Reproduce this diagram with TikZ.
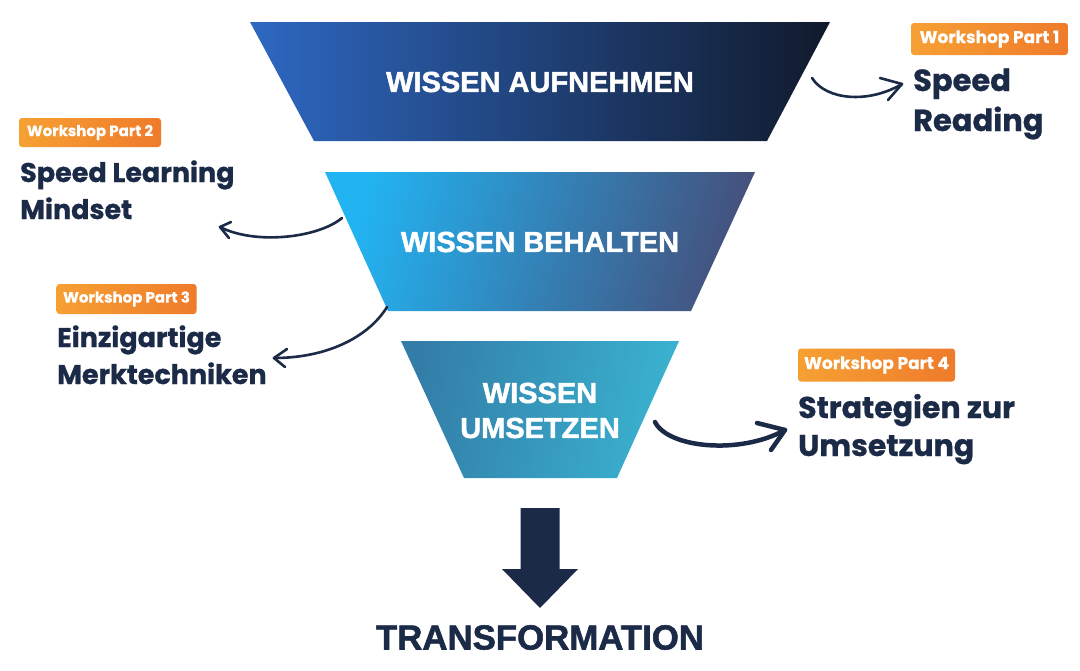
\documentclass[tikz,border=0pt]{standalone}
\usepackage{fontspec}
\setmainfont{Liberation Sans}[BoldFeatures={FakeBold=1.6}]
\newfontfamily\pop{Poppins}[BoldFeatures={FakeBold=0.8}]
\newfontfamily\popbadge{Poppins}[BoldFeatures={FakeBold=0.4}]
\usetikzlibrary{calc}
\definecolor{navy}{HTML}{1B2A47}
\definecolor{aL}{HTML}{2E68C2}
\definecolor{aR}{HTML}{111A2C}
\definecolor{bL}{HTML}{22B4F2}
\definecolor{bR}{HTML}{44527E}
\definecolor{cL}{HTML}{337DA8}
\definecolor{cR}{HTML}{3AB3D0}
\definecolor{oL}{HTML}{F6A033}
\definecolor{oR}{HTML}{EF7B2B}
\tikzset{
  funneltext/.style={text=white, font=\fontsize{29}{35}\selectfont\bfseries, align=center, inner sep=0},
  badge/.style={rounded corners=3pt, left color=oL, right color=oR, text=white,
     font=\popbadge\fontsize{#1}{#1}\selectfont\bfseries, inner sep=0, draw=none},
  label/.style={text=navy, align=left, anchor=base west, inner sep=0},
  curvy/.style={draw=navy, line width=2.6pt, line cap=round},
  barb/.style={draw=navy, line width=2.6pt, line cap=round, line join=round},
}
\begin{document}
\begin{tikzpicture}[x=1pt,y=-1pt]
\useasboundingbox (0,0) rectangle (1080,670);
\fill[white] (0,0) rectangle (1080,670);

% funnel pieces
\shade[left color=aL, right color=aR] (250,22) -- (830,22) -- (767,141) -- (314,141) -- cycle;
\shade[left color=bL, right color=bR, shading angle=75] (325,172) -- (755,172) -- (691,311) -- (388,311) -- cycle;
\shade[left color=cL, right color=cR, shading angle=80] (401,341) -- (679,341) -- (617,478) -- (464,478) -- cycle;

\node[funneltext] (t1) at (540,82) {WISSEN AUFNEHMEN};
\node[funneltext] (t2) at (540,242) {WISSEN BEHALTEN};
\node[funneltext] (t3) at (540,410.5) {WISSEN\\UMSETZEN};

% big arrow
\coordinate (ba) at (540,508);
\coordinate (bt) at (540,608);
\fill[navy] ($(ba)+(-19.5,0)$) -- ($(ba)+(19.5,0)$) -- ($(ba)+(19.5,61)$) -- ($(ba)+(38,61)$) -- (bt)
   -- ($(ba)+(-38,61)$) -- ($(ba)+(-19.5,61)$) -- cycle;
\node[text=navy, font=\fontsize{34.8}{35}\selectfont\bfseries, inner sep=0] (tr) at (540,637.5) {TRANSFORMATION};

% badges
\node[badge=17, minimum width=157pt, minimum height=32pt] (b1) at (989.5,39) {Workshop Part 1};
\node[badge=15, minimum width=142pt, minimum height=29pt] (b2) at (90,132.5) {Workshop Part 2};
\node[badge=15, minimum width=140pt, minimum height=30pt] (b3) at (126.5,299) {Workshop Part 3};
\node[badge=17, minimum width=157pt, minimum height=33pt] (b4) at (876.5,365) {Workshop Part 4};

% labels (base = last line)
\node[label, font=\pop\fontsize{30.5}{40}\selectfont\bfseries] (l1) at (913,131) {Speed\\Reading};
\node[label, font=\pop\fontsize{27}{37}\selectfont\bfseries] (l2) at (20,219) {Speed Learning\\Mindset};
\node[label, font=\pop\fontsize{27}{37}\selectfont\bfseries] (l3) at (57,384) {Einzigartige\\Merktechniken};
\node[label, font=\pop\fontsize{30}{38}\selectfont\bfseries] (l4) at (798,456) {Strategien zur\\Umsetzung};

% curved arrows
\coordinate (s1) at (812,78);  \coordinate (e1) at (902,84);
\coordinate (s2) at (342,218); \coordinate (e2) at (220,227);
\coordinate (s3) at (387,307); \coordinate (e3) at (274,358);
\coordinate (s4) at (655,422); \coordinate (e4) at (785,430);

\draw[curvy] (s1) .. controls (826,100) and (868,104) .. (e1);
\draw[barb] ($(e1)+(-22,-6)$) -- (e1) -- ($(e1)+(-14,16)$);

\draw[curvy] (s2) .. controls (318,238) and (255,245) .. (e2);
\draw[barb] ($(e2)+(11,-5)$) -- (e2) -- ($(e2)+(9,11)$);

\draw[curvy] (s3) .. controls (370,335) and (330,358) .. (e3);
\draw[barb] ($(e3)+(13,-9)$) -- (e3) -- ($(e3)+(11,9)$);

\draw[curvy, line width=4.5pt] (s4) .. controls (668,448) and (740,455) .. (e4);
\draw[barb, line width=4.5pt] ($(e4)+(-28,-7)$) -- (e4) -- ($(e4)+(-14,20)$);
\end{tikzpicture}
\end{document}
